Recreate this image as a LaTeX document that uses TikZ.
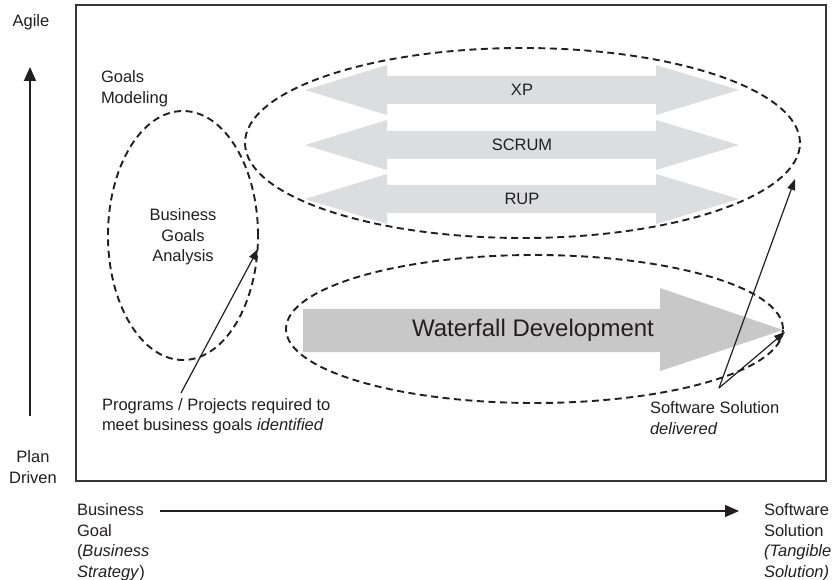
\documentclass[tikz,border=0pt]{standalone}
\usepackage{fontspec}
\setmainfont{Liberation Sans}
\usetikzlibrary{shapes.geometric,arrows.meta}
\definecolor{agilegray}{HTML}{DCDDDE}
\definecolor{wfgray}{HTML}{C8C8C8}
\definecolor{ink}{HTML}{231F20}
\tikzset{
  lbl/.style={inner sep=0pt, outer sep=0pt, text=ink, font=\fontsize{16.5}{20.5}\selectfont},
  dashell/.style={ellipse, draw=ink, line width=1.9pt, dash pattern=on 7pt off 4.5pt, inner sep=0pt, outer sep=0pt},
  conn/.style={draw=ink, line width=1.2pt, -{Triangle[length=11pt,width=8pt]}},
  axis/.style={draw=ink, -{Triangle[length=14pt,width=12pt]}},
}
\begin{document}
\begin{tikzpicture}[x=1pt,y=-1pt]
\useasboundingbox[fill=white] (0,0) rectangle (836,580);
% frame
\draw[draw=ink!90, line width=2.2pt] (76,5) rectangle (826,481);

% agile double arrows
\foreach \c/\t/\n in {90/XP/xp,145/SCRUM/scrum,199/RUP/rup}{
  \fill[agilegray] (305,\c) -- (387,\c-25) -- (387,\c-14) -- (656,\c-14) -- (656,\c-25)
     -- (739,\c) -- (656,\c+25) -- (656,\c+14) -- (387,\c+14) -- (387,\c+25) -- cycle;
  \node[lbl] (\n) at (522,\c) {\t};
}

% waterfall arrow
\fill[wfgray] (303,309) -- (660,309) -- (660,288) -- (783,330) -- (660,371) -- (660,352) -- (303,352) -- cycle;
\node[lbl, font=\fontsize{24}{28}\selectfont] (wf) at (533,330) {Waterfall Development};

% dashed ellipses
\node[dashell, minimum width=150pt, minimum height=249pt] (bga) at (183,235.5) {};
\node[dashell, minimum width=555pt, minimum height=190pt] (agl) at (522.5,143) {};
\node[dashell, minimum width=497pt, minimum height=148pt] (wfe) at (534.5,329) {};

% labels
\node[lbl] (agile) at (31,22) {Agile};
\node[lbl, align=center] (plan) at (33,467) {Plan\\Driven};
\node[lbl, align=left, anchor=west] (gm) at (101,88.5) {Goals\\Modeling};
\node[lbl, align=center] (bgatext) at (183,237) {Business\\Goals\\Analysis};
\node[lbl, align=left, anchor=west] (prog) at (102,416) {Programs / Projects required to\\meet business goals \textit{identified}};
\node[lbl, align=left, anchor=west] (ssd) at (650,418) {Software Solution\\\textit{delivered}};
\node[lbl, align=left, anchor=west] (bgoal) at (77,542) {Business\\Goal\\(\textit{Business}\\\textit{Strategy})};
\node[lbl, align=left, anchor=west] (ssol) at (764,542) {Software\\Solution\\\textit{(Tangible}\\\textit{Solution)}};

% axes
\coordinate (vbot) at (30,416);
\coordinate (vtop) at (30,67);
\draw[axis, line width=1.8pt] (vbot) -- (vtop);
\coordinate (hstart) at (160,511);
\coordinate (hend) at (739,511);
\draw[axis, line width=1.3pt] (hstart) -- (hend);

% connectors
\coordinate (progtip) at (181,393);
\draw[conn] (progtip) -- (258,249);
\coordinate (ssdtip) at (719,388);
\draw[conn] (ssdtip) -- (795,179);
\draw[conn] (ssdtip) -- (785,332);
\end{tikzpicture}
\end{document}
